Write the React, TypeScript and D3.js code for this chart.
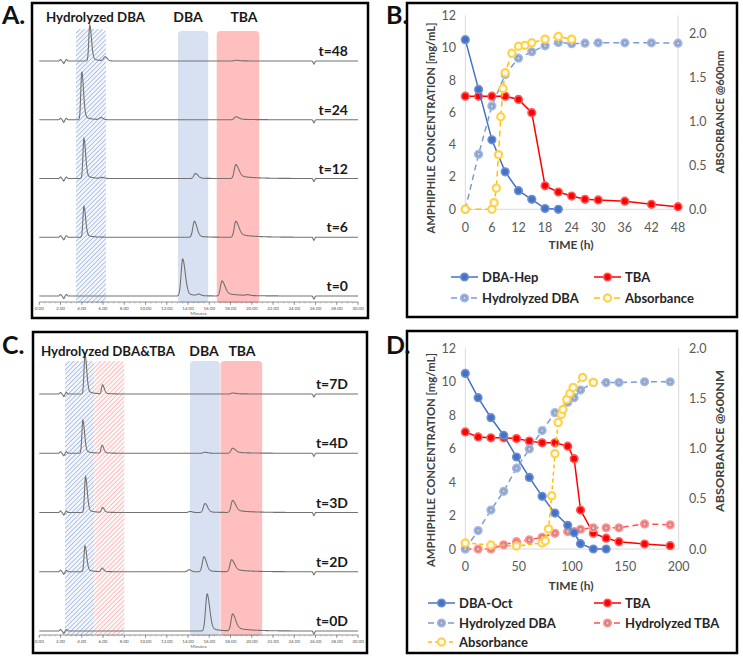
import React from 'react';
import * as d3 from 'd3';

const W = 743;
const H = 658;
const FONT = 'Lato, "Open Sans", sans-serif';

// ---------- Panel A / C chromatograms ----------
const chromTickMinutes = d3.range(0, 31, 2);
const chromMinorMinutes = d3.range(0, 30.01, 0.5);
const baselineArtifacts: [number, number, string][] = [
  [2.0, 1.5, 's'], [2.3, -2.5, 's'], [2.55, 1.5, 's'], [25.85, -3, 's'],
];

const chromALabels = ['t=48', 't=24', 't=12', 't=6', 't=0'];
const chromAPeaks: [number, number, string][][] = [
  [[4.75, 36, 'n'], [6.2, 4, 's2'], [18.5, 0.8, 't']],
  [[4.0, 48, 'n'], [5.8, 2, 's2'], [18.5, 3, 't']],
  [[4.2, 40, 'n'], [5.9, 1, 's2'], [14.7, 5, 'd'], [18.5, 14, 't']],
  [[4.2, 31, 'n'], [14.6, 16, 'd'], [18.5, 16, 't']],
  [[13.5, 37, 'd'], [15.0, 1.5, 's2'], [17.2, 15, 't'], [19.6, 0.8, 's2']],
];

const chromCLabels = ['t=7D', 't=4D', 't=3D', 't=2D', 't=0D'];
const chromCPeaks: [number, number, string][][] = [
  [[4.3, 40, 'n'], [5.95, 9, 'n'], [18.2, 1, 't']],
  [[4.1, 33, 'n'], [5.9, 8, 'n'], [15.6, 1, 'd'], [18.2, 5, 't']],
  [[4.35, 36, 'n'], [5.95, 5, 'n'], [14.2, 1, 's2'], [15.6, 9, 'd'], [18.2, 12, 't']],
  [[4.3, 26, 'n'], [5.9, 3.5, 'n'], [14.1, 2, 's2'], [15.5, 15, 'd'], [18.1, 12, 't']],
  [[15.8, 37, 'd'], [18.2, 17, 't']],
];

// regions: [start min, end min, style]
const regionsA: [number, number, string][] = [[3.45, 6.27, 'hatchBlue'], [13.05, 15.9, 'solidBlue'], [16.7, 20.7, 'solidRed']];
const regionsC: [number, number, string][] = [[2.42, 5.18, 'hatchBlue'], [5.18, 8.0, 'hatchRed'], [14.18, 17.0, 'solidBlue'], [17.06, 20.98, 'solidRed']];

// ---------- Panel B ----------
const bTime = [0, 3, 6, 9, 12, 15, 18, 21];
const bDbaHep = [10.5, 7.42, 4.3, 2.32, 1.15, 0.62, 0.05, 0.0];
const bTbaTime = [0, 3, 6, 9, 12, 15, 18, 21, 24, 27, 30, 36, 42, 48];
const bTba = [7.0, 7.0, 7.0, 7.0, 6.8, 5.98, 1.45, 1.07, 0.82, 0.62, 0.58, 0.5, 0.31, 0.16];
const bHydTime = [0, 3, 6, 9, 12, 15, 18, 21, 24, 27, 30, 36, 42, 48];
const bHydDba = [0, 3.4, 6.4, 8.35, 9.35, 9.75, 10.12, 10.33, 10.25, 10.28, 10.3, 10.3, 10.3, 10.28];
const bAbsTime = [0, 6, 6.5, 7, 7.5, 8, 8.5, 9, 10.5, 12, 13.5, 15, 18, 21, 24];
const bAbs = [0, 0, 0.075, 0.24, 0.62, 1.05, 1.37, 1.55, 1.77, 1.85, 1.86, 1.89, 1.93, 1.96, 1.93];
const bXTicks = [0, 6, 12, 18, 24, 30, 36, 42, 48];

// ---------- Panel D ----------
const dTime = [0, 12, 24, 36, 48, 60, 72, 84, 96, 102, 108, 120, 132];
const dDbaOct = [10.5, 9.05, 7.85, 6.8, 5.5, 4.28, 3.15, 2.15, 1.42, 0.97, 0.32, 0, 0];
const dTbaTime = [0, 12, 24, 36, 48, 60, 72, 84, 96, 102, 108, 120, 132, 144, 168, 192];
const dTba = [7.0, 6.7, 6.65, 6.65, 6.6, 6.45, 6.35, 6.35, 6.15, 5.4, 2.33, 0.94, 0.65, 0.44, 0.3, 0.2];
const dHydTime = [0, 12, 24, 36, 48, 60, 72, 84, 96, 102, 108, 120, 132, 144, 168, 192];
const dHydDba = [0, 1.1, 2.33, 3.45, 4.83, 5.98, 7.08, 8.15, 8.77, 9.05, 9.5, 9.95, 9.95, 9.95, 10.0, 10.0];
const dHydTba = [0, 0, 0, 0.25, 0.44, 0.55, 0.7, 0.94, 1.04, 1.04, 1.18, 1.27, 1.27, 1.27, 1.5, 1.45];
const dAbsTime = [0, 24, 48, 72, 75, 78, 81, 84, 87, 90, 91.5, 95, 98, 101, 110, 120];
const dAbs = [0.06, 0.04, 0.03, 0.06, 0.08, 0.2, 0.53, 0.95, 1.26, 1.34, 1.39, 1.49, 1.55, 1.61, 1.71, 1.66];
const dXTicks = [0, 50, 100, 150, 200];

const leftTicks = [0, 2, 4, 6, 8, 10, 12];
const rightTicks = [0, 0.5, 1.0, 1.5, 2.0];

// ---------- peak shapes ----------
const kinds: Record<string, [number, number, number, number]> = {
  n: [0.09, 0.16, 0.12, 0.5],
  d: [0.15, 0.24, 0.12, 0.7],
  t: [0.15, 0.28, 0.22, 1.4],
  s: [0.07, 0.07, 0, 1],
  s2: [0.15, 0.2, 0, 1],
};
function signal(t: number, peaks: [number, number, string][]) {
  let s = 0;
  for (const [t0, h, k] of peaks) {
    const [sl, sr, tf, tau] = kinds[k];
    const d = t - t0;
    if (d < 0) s += h * Math.exp(-0.5 * (d / sl) ** 2);
    else s += h * ((1 - tf) * Math.exp(-0.5 * (d / sr) ** 2) + tf * Math.exp(-d / tau));
  }
  return s;
}

const regionStyle: Record<string, string> = {
  hatchBlue: 'url(#hatchBlue)',
  hatchRed: 'url(#hatchRed)',
  solidBlue: '#d8e1f1',
  solidRed: '#ffbfbf',
};

function Chromatogram(props: {
  labels: string[]; peaks: [number, number, string][][]; regions: [number, number, string][];
  traceRange: [number, number]; axisY: number; hatchTop: number; solidTop: number; regionBottom: number;
  texts: { x: number; y: number; s: string; anchor?: string; len?: number }[];
}) {
  const { labels, peaks, regions, traceRange, axisY, hatchTop, solidTop, regionBottom, texts } = props;
  const x = d3.scaleLinear().domain([0, 30]).range([39.3, 358]);
  const yPos = d3.scalePoint<string>().domain(labels).range(traceRange);
  const sig = d3.scaleLinear().domain([0, 1]).range([0, -1]);
  const samples = d3.range(0, 30.0001, 0.025);
  return (
    <g>
      {regions.map(([a, b, st], i) => {
        const top = st.startsWith('hatch') ? hatchTop : solidTop;
        return (
          <rect key={i} x={x(a)} y={top} width={x(b) - x(a)} height={regionBottom - top}
            rx={4} fill={regionStyle[st]} />
        );
      })}
      {labels.map((lab, i) => {
        const base = yPos(lab)!;
        const all = peaks[i].concat(baselineArtifacts);
        const line = d3.line<number>().x((t) => x(t)).y((t) => base + sig(signal(t, all)));
        return (
          <g key={lab}>
            <path d={line(samples)!} fill="none" stroke="#727272" strokeWidth={1.1} />
            <text x={348} y={base - 5} textAnchor="end" fontFamily={FONT} fontWeight="bold" fontSize={14} fill="#1a1a1a">{lab}</text>
          </g>
        );
      })}
      <line x1={x(0)} x2={x(30)} y1={axisY} y2={axisY} stroke="#777" strokeWidth={0.8} />
      {chromMinorMinutes.map((m) => (
        <line key={'m' + m} x1={x(m)} x2={x(m)} y1={axisY} y2={axisY + 1.5} stroke="#888" strokeWidth={0.5} />
      ))}
      {chromTickMinutes.map((m) => (
        <g key={'t' + m}>
          <line x1={x(m)} x2={x(m)} y1={axisY} y2={axisY + 3} stroke="#666" strokeWidth={0.6} />
          <text x={x(m)} y={axisY + 7.5} textAnchor="middle" fontFamily={FONT} fontSize={4.5} fill="#555">{m.toFixed(2)}</text>
        </g>
      ))}
      <text x={x(15)} y={axisY + 13} textAnchor="middle" fontFamily={FONT} fontSize={4.5} fill="#555">Minutes</text>
      {texts.map((t, i) => (
        <text key={i} x={t.x} y={t.y} textAnchor={t.anchor || 'start'} fontFamily={FONT} fontWeight="bold" fontSize={14} fill="#1a1a1a"
          {...(t.len ? { textLength: t.len, lengthAdjust: 'spacingAndGlyphs' } : {})}>{t.s}</text>
      ))}
    </g>
  );
}

// ---------- line charts ----------
type Series = {
  xs: number[]; ys: number[]; axis: 'L' | 'R'; color: string; dash?: string;
  marker: 'filled' | 'hyd' | 'hollow'; mFill: string; mStroke: string; label: string;
};

function Marker({ cx, cy, s }: { cx: number; cy: number; s: Series }) {
  if (s.marker === 'filled') {
    return <circle cx={cx} cy={cy} r={3.8} fill={s.mFill} stroke={s.mStroke} strokeWidth={1.6} />;
  }
  if (s.marker === 'hyd') {
    return (
      <g>
        <circle cx={cx} cy={cy} r={3.8} fill={s.mFill} stroke={s.mStroke} strokeWidth={1.6} />
        <circle cx={cx} cy={cy} r={1.5} fill="#f4f4f4" stroke="#8a8a8a" strokeWidth={0.5} />
        <line x1={cx - 1.3} x2={cx + 1.3} y1={cy} y2={cy} stroke="#777" strokeWidth={0.5} />
      </g>
    );
  }
  return <circle cx={cx} cy={cy} r={3.6} fill="#fffdf2" stroke={s.mStroke} strokeWidth={2.2} />;
}

function LineChart(props: {
  xDomain: [number, number]; xRange: [number, number]; yRange: [number, number]; rMax: number;
  xTicks: number[]; series: Series[]; legend: { x: number; y: number; si: number }[];
  leftTitle: { x: number; y: number; len: number }; rightTitle: { x: number; y: number; len: number; s: string };
  timeY: number; tickY: number;
}) {
  const { xDomain, xRange, yRange, rMax, xTicks, series, legend, leftTitle, rightTitle, timeY, tickY } = props;
  const x = d3.scaleLinear().domain(xDomain).range(xRange);
  const yL = d3.scaleLinear().domain([0, 12]).range(yRange);
  const yR = d3.scaleLinear().domain([0, rMax]).range(yRange);
  const grid = '#d9d9d9';
  return (
    <g>
      <line x1={x(xDomain[0])} x2={x(xDomain[0])} y1={yRange[1]} y2={yRange[0]} stroke={grid} strokeWidth={1} />
      <line x1={x(xDomain[1])} x2={x(xDomain[1])} y1={yRange[1]} y2={yRange[0]} stroke={grid} strokeWidth={1} />
      <line x1={x(xDomain[0])} x2={x(xDomain[1])} y1={yRange[0]} y2={yRange[0]} stroke={grid} strokeWidth={1} />
      {leftTicks.map((t) => (
        <text key={'l' + t} x={456} y={yL(t) + 4.5} textAnchor="end" fontFamily={FONT} fontSize={12.5} fill="#595959">{t}</text>
      ))}
      {rightTicks.map((t) => (
        <text key={'r' + t} x={689} y={yR(t) + 4.5} textAnchor="start" fontFamily={FONT} fontSize={12.5} fill="#595959">{t.toFixed(1)}</text>
      ))}
      {xTicks.map((t) => (
        <text key={'x' + t} x={x(t)} y={tickY} textAnchor="middle" fontFamily={FONT} fontSize={12.5} fill="#595959">{t}</text>
      ))}
      <text x={571} y={timeY} textAnchor="middle" fontFamily={FONT} fontWeight="bold" fontSize={12} fill="#404040">TIME (h)</text>
      <text transform={`translate(${leftTitle.x},${leftTitle.y}) rotate(-90)`} textAnchor="middle" fontFamily={FONT} fontWeight="bold"
        fontSize={12} fill="#404040" textLength={leftTitle.len} lengthAdjust="spacingAndGlyphs">AMPHIPHILE  CONCENTRATION [mg/mL]</text>
      <text transform={`translate(${rightTitle.x},${rightTitle.y}) rotate(-90)`} textAnchor="middle" fontFamily={FONT} fontWeight="bold"
        fontSize={12} fill="#404040" textLength={rightTitle.len} lengthAdjust="spacingAndGlyphs">{rightTitle.s}</text>
      {series.map((s, i) => {
        const ys = s.axis === 'L' ? yL : yR;
        const pts = s.xs.map((v, j) => [x(v), ys(s.ys[j])] as [number, number]);
        return (
          <g key={i}>
            <path d={d3.line()(pts)!} fill="none" stroke={s.color} strokeWidth={1.5} strokeDasharray={s.dash} />
            {pts.map((p, j) => <Marker key={j} cx={p[0]} cy={p[1]} s={s} />)}
          </g>
        );
      })}
      {legend.map((l, i) => {
        const s = series[l.si];
        return (
          <g key={'lg' + i}>
            <line x1={l.x} x2={l.x + 27} y1={l.y} y2={l.y} stroke={s.color} strokeWidth={1.5} strokeDasharray={s.dash} />
            <Marker cx={l.x + 13.5} cy={l.y} s={s} />
            <text x={l.x + 31} y={l.y + 4.7} fontFamily={FONT} fontWeight="bold" fontSize={13} fill="#262626">{s.label}</text>
          </g>
        );
      })}
    </g>
  );
}

const BLUE = '#4472C4';
const BLUE_L = '#7b9bd6';
const RED = '#FF0000';
const YEL = '#FFC000';

export default function App() {
  const seriesB: Series[] = [
    { xs: bTbaTime, ys: bTba, axis: 'L', color: RED, marker: 'filled', mFill: RED, mStroke: '#ff5a5a', label: 'TBA' },
    { xs: bTime, ys: bDbaHep, axis: 'L', color: BLUE, marker: 'filled', mFill: BLUE, mStroke: '#6e8fd2', label: 'DBA-Hep' },
    { xs: bHydTime, ys: bHydDba, axis: 'L', color: BLUE_L, dash: '6,4', marker: 'hyd', mFill: '#86a3d8', mStroke: '#a3b9e3', label: 'Hydrolyzed DBA' },
    { xs: bAbsTime, ys: bAbs, axis: 'R', color: YEL, dash: '6,4', marker: 'hollow', mFill: '#fff', mStroke: '#ffd24d', label: 'Absorbance' },
  ];
  const seriesD: Series[] = [
    { xs: dTbaTime, ys: dTba, axis: 'L', color: RED, marker: 'filled', mFill: RED, mStroke: '#ff5a5a', label: 'TBA' },
    { xs: dHydTime, ys: dHydTba, axis: 'L', color: '#ff5050', dash: '6,4', marker: 'hyd', mFill: '#ff6e6e', mStroke: '#ff9595', label: 'Hydrolyzed TBA' },
    { xs: dTime, ys: dDbaOct, axis: 'L', color: BLUE, marker: 'filled', mFill: BLUE, mStroke: '#6e8fd2', label: 'DBA-Oct' },
    { xs: dHydTime, ys: dHydDba, axis: 'L', color: BLUE_L, dash: '6,4', marker: 'hyd', mFill: '#86a3d8', mStroke: '#a3b9e3', label: 'Hydrolyzed DBA' },
    { xs: dAbsTime, ys: dAbs, axis: 'R', color: YEL, dash: '4,3', marker: 'hollow', mFill: '#fff', mStroke: '#ffd24d', label: 'Absorbance' },
  ];
  return (
    <svg width={W} height={H} viewBox={`0 0 ${W} ${H}`} style={{ position: 'absolute', left: 0, top: 0, background: '#fff' }}>
      <defs>
        <pattern id="hatchBlue" width={3.2} height={3.2} patternUnits="userSpaceOnUse" patternTransform="rotate(45)">
          <rect width={3.2} height={3.2} fill="#f3f6fc" />
          <line x1={0} y1={0} x2={0} y2={3.2} stroke="#93acd9" strokeWidth={1.3} />
        </pattern>
        <pattern id="hatchRed" width={3.2} height={3.2} patternUnits="userSpaceOnUse" patternTransform="rotate(45)">
          <rect width={3.2} height={3.2} fill="#fff5f5" />
          <line x1={0} y1={0} x2={0} y2={3.2} stroke="#f5a9a9" strokeWidth={1.3} />
        </pattern>
      </defs>
      <rect width={W} height={H} fill="#fff" />

      {/* Panel A */}
      <rect x={32} y={3} width={336} height={315} fill="none" stroke="#000" strokeWidth={2.5} />
      <text x={2} y={24} fontFamily={FONT} fontWeight="bold" fontSize={25} fill="#111">A.</text>
      <Chromatogram labels={chromALabels} peaks={chromAPeaks} regions={regionsA} traceRange={[61, 296]} axisY={302}
        hatchTop={29} solidTop={31} regionBottom={303}
        texts={[{ x: 46, y: 22, s: 'Hydrolyzed DBA', len: 99 }, { x: 188, y: 22, s: 'DBA', anchor: 'middle' }, { x: 244, y: 22, s: 'TBA', anchor: 'middle' }]} />

      {/* Panel C */}
      <rect x={33} y={332} width={334} height={321} fill="none" stroke="#000" strokeWidth={2.5} />
      <text x={2} y={354} fontFamily={FONT} fontWeight="bold" fontSize={25} fill="#111">C.</text>
      <Chromatogram labels={chromCLabels} peaks={chromCPeaks} regions={regionsC} traceRange={[394, 631]} axisY={635}
        hatchTop={361} solidTop={361} regionBottom={636}
        texts={[{ x: 41, y: 356, s: 'Hydrolyzed DBA&TBA', len: 134 }, { x: 204, y: 356, s: 'DBA', anchor: 'middle' }, { x: 242, y: 356, s: 'TBA', anchor: 'middle' }]} />

      {/* Panel B */}
      <rect x={407} y={3} width={330} height={314} fill="none" stroke="#000" strokeWidth={2.5} />
      <text x={386} y={24} fontFamily={FONT} fontWeight="bold" fontSize={25} fill="#111">B.</text>
      <LineChart xDomain={[0, 48]} xRange={[465.3, 678]} yRange={[209.3, 15.4]} rMax={2.2} xTicks={bXTicks}
        series={seriesB}
        legend={[{ x: 451, y: 277, si: 1 }, { x: 594, y: 277, si: 0 }, { x: 451, y: 298, si: 2 }, { x: 594, y: 298, si: 3 }]}
        leftTitle={{ x: 435, y: 128, len: 211 }} rightTitle={{ x: 724, y: 112, len: 123, s: 'ABSORBANCE @600nm' }}
        timeY={249} tickY={232} />

      {/* Panel D */}
      <rect x={407} y={331} width={330} height={322} fill="none" stroke="#000" strokeWidth={2.5} />
      <text x={386} y={354} fontFamily={FONT} fontWeight="bold" fontSize={25} fill="#111">D.</text>
      <LineChart xDomain={[0, 200]} xRange={[465.3, 678.7]} yRange={[549, 348.3]} rMax={2} xTicks={dXTicks}
        series={seriesD}
        legend={[{ x: 428, y: 603, si: 2 }, { x: 594, y: 603, si: 0 }, { x: 428, y: 623, si: 3 }, { x: 594, y: 623, si: 1 }, { x: 428, y: 642, si: 4 }]}
        leftTitle={{ x: 435, y: 460, len: 214 }} rightTitle={{ x: 724, y: 441, len: 142, s: 'ABSORBANCE @600NM' }}
        timeY={590} tickY={571} />
    </svg>
  );
}
